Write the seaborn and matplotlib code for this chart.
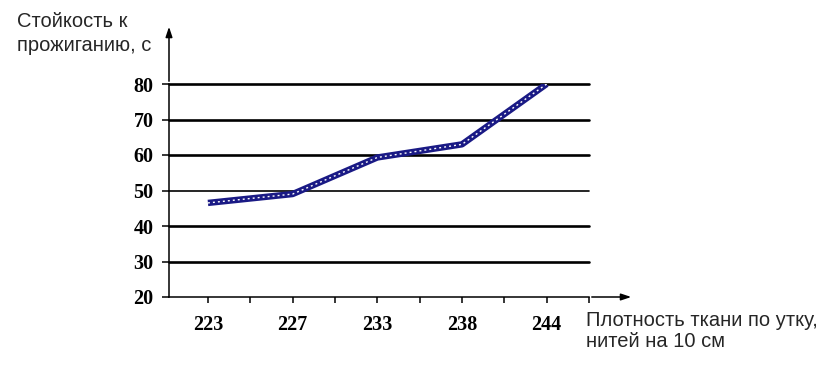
import numpy as np
import pandas as pd
import seaborn as sns
from matplotlib import pyplot as plt

# data
density = ['223', '227', '233', '238', '244']
burn_resistance = [46.5, 49.0, 59.3, 63.0, 80.0]
y_ticks = [20, 30, 40, 50, 60, 70, 80]

sns.set_style('white')
plt.rcParams['font.family'] = ['Liberation Sans', 'DejaVu Sans']

df = pd.DataFrame({'pos': np.arange(len(density)), 'value': burn_resistance})

fig = plt.figure(figsize=(8.4, 3.71), dpi=100)
ax = fig.add_axes([169 / 840, 74 / 371, 420 / 840, 213 / 371])

# horizontal grid lines
for v in y_ticks[1:]:
    ax.axhline(v, color='black', lw=1.2 if v == 50 else 1.9, zorder=1,
               clip_on=False)

# line drawn as a navy band with white gaps, like the hatched excel line
sns.lineplot(data=df, x='pos', y='value', ax=ax, color='#1a1a85', lw=4.6,
             solid_capstyle='butt', zorder=3)
sns.lineplot(data=df, x='pos', y='value', ax=ax, color='white', lw=1.0,
             zorder=4)
ax.lines[-1].set_dashes((1.4, 2.2))

ax.set_xlim(-0.46, 4.5)
ax.set_ylim(20, 80)
ax.set_xticks(range(len(density)))
ax.set_xticklabels(density)
ax.set_xticks(np.arange(0.5, 4.6, 1), minor=True)
ax.set_yticks(y_ticks)
ax.set_xlabel('')
ax.set_ylabel('')

for lbl in ax.get_xticklabels() + ax.get_yticklabels():
    lbl.set_family('Liberation Serif')
    lbl.set_fontweight('bold')
    lbl.set_fontsize(14.5)

ax.tick_params(axis='x', which='both', direction='out', length=4, width=1.1,
               bottom=True, pad=9, colors='black')
ax.tick_params(axis='y', direction='out', length=5, width=1.1, left=True,
               pad=6, colors='black')

for side in ['top', 'right']:
    ax.spines[side].set_visible(False)
for side in ['left', 'bottom']:
    ax.spines[side].set_color('black')
    ax.spines[side].set_linewidth(1.1)

# axis arrows beyond the plotting area
ax.annotate('', xy=(169 / 840, 1 - 24 / 371), xycoords='figure fraction',
            xytext=(169 / 840, 1 - 84 / 371), textcoords='figure fraction',
            arrowprops=dict(arrowstyle='-|>,head_length=0.6,head_width=0.2',
                            color='black', lw=1.1))
ax.annotate('', xy=(634 / 840, 74 / 371), xycoords='figure fraction',
            xytext=(589 / 840, 74 / 371), textcoords='figure fraction',
            arrowprops=dict(arrowstyle='-|>,head_length=0.6,head_width=0.2',
                            color='black', lw=1.1))

fig.text(17 / 840, 1 - 12 / 371, 'Стойкость к\nпрожиганию, с', fontsize=14.5,
         va='top', ha='left', linespacing=1.35)
fig.text(586 / 840, 1 - 311 / 371, 'Плотность ткани по утку,\nнитей на 10 см',
         fontsize=14.5, va='top', ha='left', linespacing=1.15)

fig.savefig('out.png', dpi=100)
